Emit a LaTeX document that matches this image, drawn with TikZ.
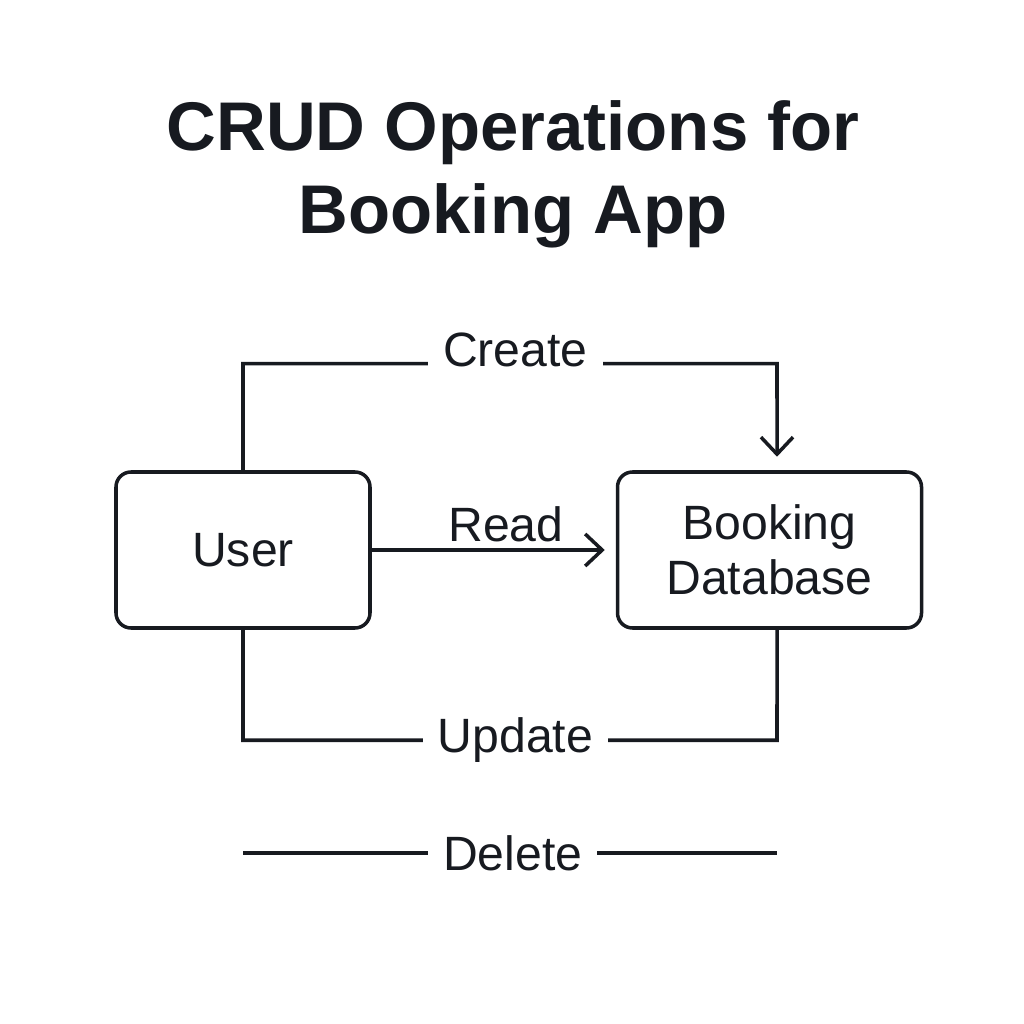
\documentclass[tikz,border=0pt]{standalone}
\usepackage{fontspec}
\setmainfont{Liberation Sans}
\usepackage{xcolor}
\usetikzlibrary{arrows.meta,positioning,calc}
\definecolor{ink}{HTML}{171a20}

\begin{document}
\begin{tikzpicture}[
  node distance=24.4mm,
  box/.style={draw=ink, line width=1pt, rounded corners=1.5mm, align=center, text=ink,
    font=\fontsize{13.7}{15.6}\selectfont, minimum height=15.6mm, inner sep=0pt},
  lbl/.style={fill=white, text=ink, inner xsep=1.5mm, inner ysep=0.5mm, font=\fontsize{13.7}{15.1}\selectfont},
  arr/.style={-{Straight Barb[length=1.7mm, width=3.2mm]}, line width=1pt, draw=ink},
  wire/.style={line width=1pt, draw=ink}]
  \useasboundingbox (0,0) rectangle (10.24,10.24);
  \node[text=ink, align=center, font=\fontsize{19.6}{23.6}\selectfont\bfseries] (title) at (5.13,8.5) {CRUD Operations for\\Booking App};
  \node[box, minimum width=25.4mm] (user) at (2.43,4.74) {User};
  \node[box, minimum width=30.4mm, right=of user] (db) {Booking\\Database};
  % create / read / update
  \draw[arr, shorten >=1.35mm] (user.north) -- ++(0,1.065) -- node[lbl, pos=.51, yshift=1.4mm] {Create} ++(5.34,0) -- ([xshift=0.75mm]db.north);
  \draw[arr, shorten >=1.1mm] (user.east) -- node[pos=.55, above, text=ink, inner sep=0.6mm, font=\fontsize{13.7}{15.1}\selectfont] {Read} (db.west);
  \draw[wire] (user.south) -- ++(0,-1.105) -- node[lbl, pos=.51] {Update} ++(5.34,0) -- ([xshift=0.75mm]db.south);
  % delete
  \coordinate (del-l) at ($(user.south)+(0,-2.235)$);
  \coordinate (del-r) at ($(del-l)+(5.34,0)$);
  \draw[wire] (del-l) -- node[lbl, pos=.505] {Delete} (del-r);
\end{tikzpicture}
\end{document}
